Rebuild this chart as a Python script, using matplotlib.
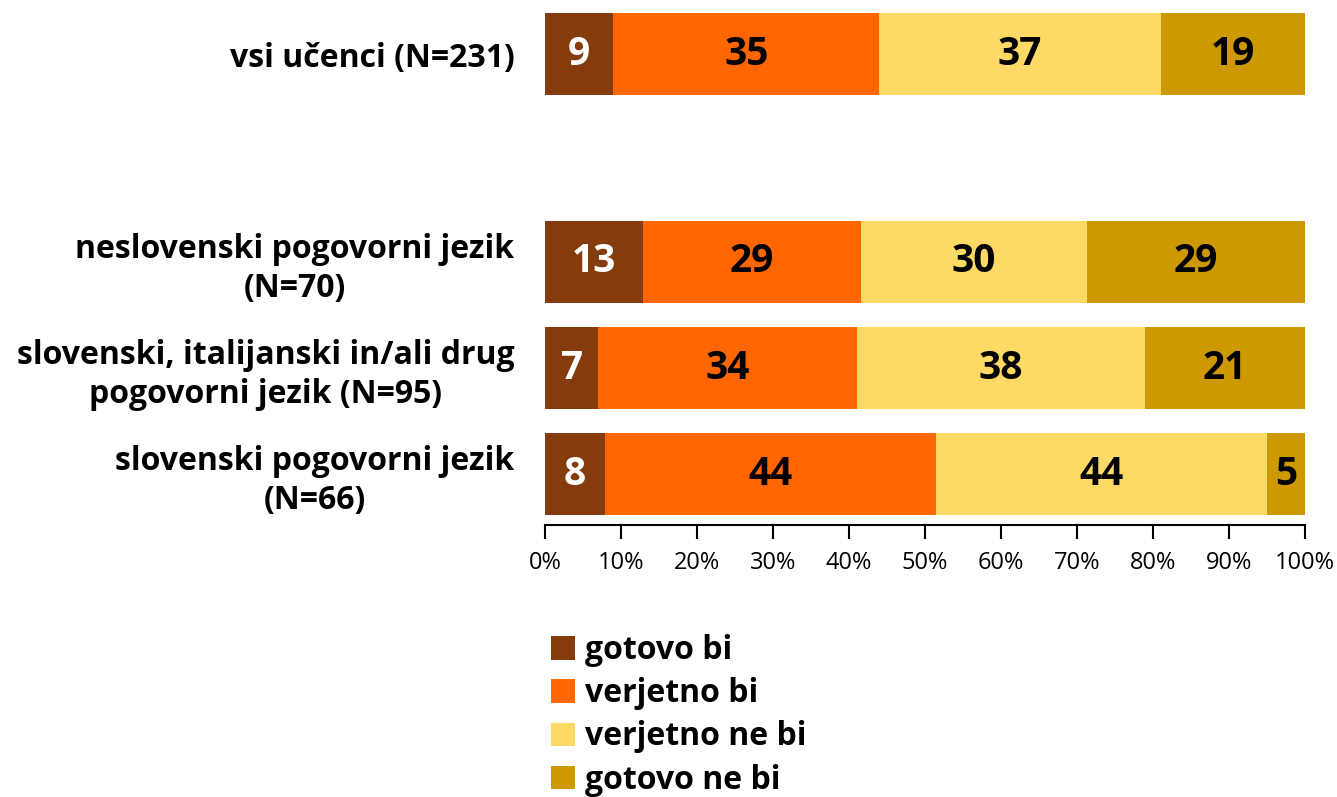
import numpy as np
import matplotlib.pyplot as plt
from matplotlib.patches import Patch

# podatki
skupine = ["slovenski pogovorni jezik\n(N=66)",
           "slovenski, italijanski in/ali drug\npogovorni jezik (N=95)",
           "neslovenski pogovorni jezik\n(N=70)",
           "vsi učenci (N=231)"]
pozicije = [0, 1, 2, 3.96]
odgovori = ["gotovo bi", "verjetno bi", "verjetno ne bi", "gotovo ne bi"]
gotovo_bi = [8, 7, 13, 9]
verjetno_bi = [44, 34, 29, 35]
verjetno_ne_bi = [44, 38, 30, 37]
gotovo_ne_bi = [5, 21, 29, 19]
barve = ["#843C0C", "#FF6600", "#FFD966", "#CC9900"]
barve_besedila = ["white", "black", "black", "black"]

serije = np.array([gotovo_bi, verjetno_bi, verjetno_ne_bi, gotovo_ne_bi], dtype=float)
delezi = serije / serije.sum(axis=0) * 100

plt.rcParams['font.family'] = ['Open Sans', 'DejaVu Sans']

fig = plt.figure(figsize=(13.37, 7.97), dpi=100)
ax = fig.add_axes([545 / 1337, 1 - 525 / 797, 760 / 1337, 525 / 797])

levo = np.zeros(len(pozicije))
for i in range(4):
    ax.barh(pozicije, delezi[i], left=levo, height=0.78, color=barve[i], label=odgovori[i])
    for y, l, w, v in zip(pozicije, levo, delezi[i], serije[i]):
        ax.text(l + w / 2, y, f"{int(v)}", ha='center', va='center',
                fontsize=28, fontweight='bold', color=barve_besedila[i])
    levo += delezi[i]

ax.set_xlim(0, 100)
ax.set_ylim(-0.48, 4.47)
ax.set_yticks(pozicije)
ax.set_yticklabels(skupine, fontsize=23, fontweight='bold', ha='right',
                   multialignment='center', linespacing=1.25)
ax.tick_params(axis='y', length=0, pad=22)
ax.set_xticks(np.arange(0, 101, 10))
ax.set_xticklabels([f"{t}%" for t in range(0, 101, 10)], fontsize=17)
ax.tick_params(axis='x', length=10, width=1.5, direction='out', pad=9)
for s in ['top', 'right', 'left']:
    ax.spines[s].set_visible(False)
ax.spines['bottom'].set_linewidth(1.5)

rocke = [Patch(facecolor=c, edgecolor='none') for c in barve]
fig.legend(rocke, odgovori, loc='upper left', bbox_to_anchor=(551 / 1337, 1 - 634 / 797),
           frameon=False, prop={'size': 23, 'weight': 'bold'},
           handlelength=0.75, handleheight=0.75, handletextpad=0.3, labelspacing=0.32,
           borderaxespad=0, borderpad=0)

fig.savefig("out.png", dpi=100)
